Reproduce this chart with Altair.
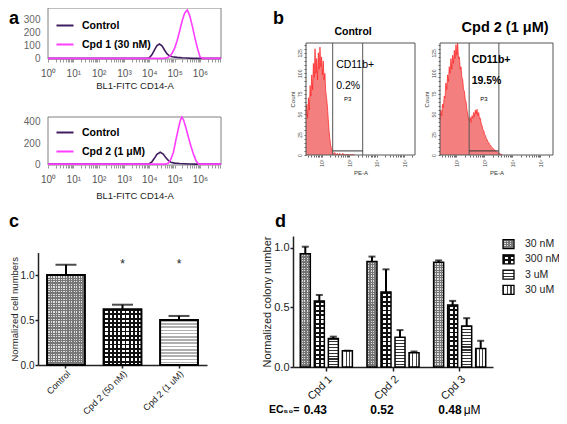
import math
import altair as alt
import pandas as pd

W, H = 551, 408
FONT = "Arial"
CLEAR = "rgba(0,0,0,0)"
LOGLAB = "datum.value % 1 == 0 ? '10' + ['⁰','¹','²','³','⁴','⁵','⁶'][datum.value] : ''"

# ---------------- panel a : CD14 flow histograms (x = log10 intensity) ----------------
a1_names = ["Control", "Cpd 1 (30 nM)"]
a1_ctrl_x = [0.0, 3.9, 4.0, 4.1, 4.2, 4.3, 4.4, 4.5, 4.6, 4.7, 4.8, 4.9, 5.1, 5.3, 5.5, 5.7, 6.83]
a1_ctrl_y = [0, 0, 5, 28, 65, 100, 112, 98, 65, 35, 20, 12, 8, 5, 3, 0, 0]
a1_cpd_x = [0.0, 4.6, 4.7, 4.8, 4.9, 5.0, 5.1, 5.2, 5.3, 5.4, 5.5, 5.6, 5.7, 5.8, 5.9, 6.0, 6.1, 6.83]
a1_cpd_y = [0, 0, 4, 15, 40, 80, 140, 215, 295, 355, 378, 330, 250, 160, 80, 12, 0, 0]

a2_names = ["Control", "Cpd 2 (1 μM)"]
a2_ctrl_x = [0.0, 3.9, 4.0, 4.1, 4.2, 4.3, 4.43, 4.55, 4.65, 4.75, 4.85, 5.0, 5.2, 5.4, 5.6, 5.8, 6.83]
a2_ctrl_y = [0, 0, 4, 22, 55, 92, 112, 95, 62, 35, 18, 10, 6, 4, 2, 0, 0]
a2_cpd_x = [0.0, 4.65, 4.75, 4.85, 4.95, 5.05, 5.15, 5.22, 5.28, 5.35, 5.45, 5.55, 5.65, 5.75, 5.85, 5.95, 6.83]
a2_cpd_y = [0, 0, 10, 45, 110, 230, 340, 410, 445, 420, 340, 250, 165, 90, 30, 0, 0]

# ---------------- panel b : PE-A (CD11b) histograms, bins of 0.03 log10 units from 10^1.42 ----------------
b1_counts = [48, 62, 45, 70, 55, 85, 72, 98, 80, 112, 95, 130, 100, 118, 92, 125, 105, 132, 108, 120,
             98, 115, 92, 100, 78, 70, 60, 45, 30, 20, 12, 8, 4, 2, 1, 3, 1, 0, 2, 1,
             0, 2, 1, 0, 1, 2, 0, 1, 0, 1, 0, 1, 0, 0, 1, 0, 0, 1, 0, 0]
b2_counts = [42, 55, 48, 62, 58, 72, 70, 88, 80, 98, 90, 108, 100, 118, 105, 122, 112, 128, 118, 135,
             122, 137, 118, 120, 105, 108, 95, 92, 80, 78, 68, 65, 55, 50, 44, 42, 46, 40, 48, 45,
             52, 47, 55, 50, 56, 48, 52, 44, 45, 38, 36, 31, 30, 25, 24, 20, 19, 16, 15, 13,
             12, 10, 9, 8, 7, 6, 5, 4, 4, 3, 2, 2, 1, 1, 0]
b1_gate = [2.395, 3.49]
b2_gate = [2.46, 3.52]
b1_pct = "0.2%"
b2_pct = "19.5%"

# ---------------- panel c ----------------
c_cats = ["Control", "Cpd 2 (50 nM)", "Cpd 2 (1 uM)"]
c_vals = [1.0, 0.62, 0.50]
c_errs = [0.115, 0.05, 0.045]
c_stars = ["", "*", "*"]

# ---------------- panel d ----------------
d_groups = ["Cpd 1", "Cpd 2", "Cpd 3"]
d_series = ["30 nM", "300 nM", "3 uM", "30 uM"]
d_30nM = [0.95, 0.885, 0.88]
d_300nM = [0.555, 0.63, 0.52]
d_3uM = [0.24, 0.25, 0.345]
d_30uM = [0.137, 0.12, 0.155]
d_30nM_err = [0.06, 0.042, 0.015]
d_300nM_err = [0.05, 0.19, 0.035]
d_3uM_err = [0.015, 0.06, 0.065]
d_30uM_err = [0.0, 0.01, 0.065]
ec50 = ["0.43", "0.52", "0.48"]


# ---------------- helpers ----------------
def log_ticks(lo, hi):
    return [round(d + math.log10(k), 4) for d in range(0, 7) for k in range(1, 10)
            if lo <= d + math.log10(k) <= hi]


def stripes(n, on, off, frac, axis):
    n = max(1, int(round(n)))
    stops = []
    for i in range(n):
        a, b, c = i / n, (i + frac) / n, (i + 1) / n
        stops += [alt.GradientStop(offset=round(a, 4), color=on), alt.GradientStop(offset=round(b, 4), color=on),
                  alt.GradientStop(offset=round(b, 4), color=off), alt.GradientStop(offset=round(c, 4), color=off)]
    if axis == "x":
        return alt.LinearGradient(gradient="linear", stops=stops, x1=0, y1=0, x2=1, y2=0)
    return alt.LinearGradient(gradient="linear", stops=stops, x1=0, y1=0, x2=0, y2=1)


def fills(kind, w, h):
    if kind == "fine":
        return [stripes(w / 2.5, "#777777", "#dddddd", 0.5, "x"), stripes(h / 2.5, "#777777", CLEAR, 0.5, "y")]
    if kind == "bold":
        return [stripes(w / 4.4, "#111111", "#ffffff", 0.42, "x"), stripes(h / 4.4, "#111111", CLEAR, 0.42, "y")]
    if kind == "hgray":
        return [stripes(h / 3.2, "#b0b0b0", "#ffffff", 0.5, "y")]
    if kind == "hblack":
        return [stripes(h / 3.0, "#333333", "#ffffff", 0.4, "y")]
    return [stripes(w / 3.3, "#444444", "#ffffff", 0.33, "x")]


def bar_layers(df, filt, enc, kind, w, h, sw, markname="bar"):
    out = []
    fl = fills(kind, w, h)
    for i, f in enumerate(fl):
        last = i == len(fl) - 1
        base = alt.Chart(df).transform_filter(filt)
        if markname == "bar":
            m = base.mark_bar(fill=f, stroke="black", strokeWidth=sw if last else 0)
        else:
            m = base.mark_rect(fill=f, stroke="black", strokeWidth=sw if last else 0)
        out.append(m.encode(**enc))
    return out


# ---------------- panel a builder ----------------
def panel_a(names, curves, y_dom, y_rng, y_vals, legend_y, title_pad):
    rows = []
    for name, (xs, ys) in zip(names, curves):
        for x, y in zip(xs, ys):
            rows.append({"x": x, "y": y, "s": name})
    df = pd.DataFrame(rows)
    xsc = alt.Scale(domain=[0, 6.83], range=[40, 213], nice=False, zero=False)
    ysc = alt.Scale(domain=y_dom, range=y_rng, nice=False, zero=False)
    axx = alt.Axis(orient="bottom", offset=y_rng[0] - H, values=log_ticks(0, 6.83), labelExpr=LOGLAB,
                   labelFlush=False, labelOverlap=False, domain=False, grid=False,
                   tickSize=3, tickColor="#999999", labelFontSize=10, labelColor="#555555", labelPadding=6,
                   title="BL1-FITC CD14-A", titleFontSize=9.5, titleFontWeight="normal", titleColor="#222222",
                   titlePadding=title_pad)
    axy = alt.Axis(orient="left", offset=-40, values=y_vals, domain=False, ticks=False, grid=False,
                   labelFontSize=10, labelColor="#666666", labelPadding=8, title=None)
    box = alt.Chart(pd.DataFrame({"x": [0.0], "x2": [6.83], "y": [y_dom[0]], "y2": [y_dom[1]]})).mark_rect(
        fill="white", fillOpacity=0, stroke="#808080", strokeWidth=1).encode(
        x=alt.X("x:Q", scale=xsc, axis=axx), x2="x2:Q", y=alt.Y("y:Q", scale=ysc, axis=axy), y2="y2:Q")
    lines = alt.Chart(df).mark_line(strokeWidth=1.6).encode(
        x=alt.X("x:Q", scale=xsc, axis=axx), y=alt.Y("y:Q", scale=ysc, axis=axy),
        color=alt.Color("s:N", scale=alt.Scale(domain=names, range=["#3f1d5e", "#ff3dff"]),
                        legend=alt.Legend(orient="none", legendX=47, legendY=legend_y, title=None,
                                          symbolType="stroke", symbolSize=290, symbolStrokeWidth=2,
                                          labelFontSize=10.5, labelFontWeight="bold", labelColor="black",
                                          labelOffset=7, rowPadding=3, labelFont=FONT)))
    return alt.layer(box, lines)


# ---------------- panel b builder ----------------
def panel_b(counts, x_dom, x_rng, gate, texts):
    xs = [round(1.42 + 0.03 * i, 2) for i in range(len(counts))]
    df = pd.DataFrame({"x": xs, "y": counts})
    xsc = alt.Scale(domain=x_dom, range=x_rng, nice=False, zero=False)
    ysc = alt.Scale(domain=[0, 137], range=[147, 35], nice=False, zero=False)
    axx = alt.Axis(orient="bottom", offset=147 - H, values=log_ticks(x_dom[0], x_dom[1]), labelExpr=LOGLAB,
                   labelAngle=-90, labelFontSize=5, labelColor="#444444", labelPadding=2, labelFlush=False,
                   labelOverlap=False, tickSize=2, tickColor="#666666", domain=False, grid=False,
                   title="PE-A", titleFontSize=6, titleFontWeight="normal", titleColor="#333333", titlePadding=3)
    axy = alt.Axis(orient="left", offset=-x_rng[0], values=list(range(0, 136, 5)),
                   labelExpr="datum.value % 25 == 0 ? datum.label : ''", labelAngle=-90, labelFontSize=5,
                   labelColor="#444444", labelPadding=2, labelOverlap=False, tickSize=2, tickColor="#666666",
                   domain=False, grid=False, title="Count", titleFontSize=6, titleFontWeight="normal",
                   titleColor="#333333", titlePadding=2)
    X = alt.X("x:Q", scale=xsc, axis=axx)
    Y = alt.Y("y:Q", scale=ysc, axis=axy)
    area = alt.Chart(df).mark_area(color="#f27878", opacity=0.95).encode(x=X, y=Y)
    line = alt.Chart(df).mark_line(color="#ff2020", strokeWidth=0.7).encode(x=X, y=Y)
    box = alt.Chart(pd.DataFrame({"x": [x_dom[0]], "x2": [x_dom[1]], "y": [0], "y2": [137]})).mark_rect(
        fill="white", fillOpacity=0, stroke="#555555", strokeWidth=1).encode(x=X, x2="x2:Q", y=Y, y2="y2:Q")
    vr = alt.Chart(pd.DataFrame({"x": gate, "y": [0, 0], "y2": [137, 137]})).mark_rule(
        color="#555555", strokeWidth=1).encode(x=X, y=Y, y2="y2:Q")
    hr = alt.Chart(pd.DataFrame({"x": [gate[0]], "x2": [gate[1]], "y": [5]})).mark_rule(
        color="#333333", strokeWidth=1).encode(x=X, x2="x2:Q", y=Y)
    layers = [area, line, box, vr, hr]
    for (tx, ty, t, size, weight, align) in texts:
        layers.append(alt.Chart(pd.DataFrame({"x": [tx], "y": [ty], "t": [t]})).mark_text(
            fontSize=size, fontWeight=weight, align=align, baseline="middle", color="black").encode(
            x=X, y=Y, text="t:N"))
    return alt.layer(*layers)


# ---------------- build panels ----------------
a1 = panel_a(a1_names, [(a1_ctrl_x, a1_ctrl_y), (a1_cpd_x, a1_cpd_y)], [-5, 393], [51, 0],
             [0, 100, 200, 300], 7.5, 2)
a2 = panel_a(a2_names, [(a2_ctrl_x, a2_ctrl_y), (a2_cpd_x, a2_cpd_y)], [-8, 446], [157, 109],
             [0, 200, 400], 114.5, 6)

b1 = panel_b(b1_counts, [1.42, 5.4], [298, 407], b1_gate,
             [(2.52, 110, "CD11b+", 10.5, "normal", "left"), (2.52, 84, b1_pct, 10.5, "normal", "left"),
              (2.94, 68, "P3", 6, "normal", "center"), (3.14, 151, "Control", 10.5, "bold", "center")])
b2 = panel_b(b2_counts, [1.42, 5.45], [432, 545], b2_gate,
             [(2.55, 116, "CD11b+", 10.5, "bold", "left"), (2.55, 91, b2_pct, 10.5, "bold", "left"),
              (2.99, 68, "P3", 6, "normal", "center"), (3.74, 155, "Cpd 2 (1 μM)", 14.5, "bold", "center")])

# panel c
C_BOT = 357
c_df = pd.DataFrame({"cat": c_cats, "val": c_vals, "err": c_errs, "star": c_stars})
xs_c = alt.Scale(domain=c_cats, range=[30, 199], paddingInner=0.33, paddingOuter=0.16)
ys_c = alt.Scale(domain=[0, 1.25], range=[C_BOT, C_BOT - 112.5], nice=False, zero=False)
ax_c_x = alt.Axis(orient="bottom", offset=C_BOT - H, labelAngle=-45, labelFontSize=9, labelColor="#222222",
                  labelPadding=1, tickSize=3, tickWidth=1.5, tickColor="#222222", domainWidth=1.5,
                  domainColor="#222222", title=None, grid=False)
ax_c_y = alt.Axis(orient="left", offset=-30, values=[0, 0.5, 1.0], format=".1f", labelFontSize=10,
                  labelColor="#222222", labelPadding=1, tickSize=3, tickWidth=1.5, tickColor="#222222",
                  domainWidth=1.5, domainColor="#222222", title="Normalized cell numbers", titleFontSize=9.5,
                  titleFontWeight="normal", titleColor="#222222", titlePadding=1, grid=False)
Xc = alt.X("cat:N", scale=xs_c, axis=ax_c_x)
c_layers = []
for cat, v, kind in zip(c_cats, c_vals, ["fine", "bold", "hgray"]):
    c_layers += bar_layers(c_df, f"datum.cat == '{cat}'", dict(x=Xc, y=alt.Y("val:Q", scale=ys_c, axis=ax_c_y)),
                           kind, 37.9, v * 90, 2)
c_err = alt.Chart(c_df).transform_calculate(top="datum.val + datum.err")
c_layers.append(c_err.mark_rule(color="black", strokeWidth=2).encode(
    x=Xc, y=alt.Y("val:Q", scale=ys_c, axis=ax_c_y), y2="top:Q"))
c_layers.append(c_err.mark_tick(color="black", orient="horizontal", size=21, thickness=2).encode(
    x=Xc, y=alt.Y("top:Q", scale=ys_c, axis=ax_c_y)))
c_layers.append(alt.Chart(c_df).mark_text(fontSize=12, color="#222222", baseline="middle").encode(
    x=Xc, y=alt.datum(1.125, scale=ys_c, axis=ax_c_y), text="star:N"))
c_panel = alt.layer(*c_layers)

# panel d
d_rows = []
for s, vals, errs in zip(d_series, [d_30nM, d_300nM, d_3uM, d_30uM],
                         [d_30nM_err, d_300nM_err, d_3uM_err, d_30uM_err]):
    for g, v, e in zip(d_groups, vals, errs):
        d_rows.append({"g": g, "s": s, "v": v, "e": e})
d_df = pd.DataFrame(d_rows)
d_kind = {"30 nM": "fine", "300 nM": "bold", "3 uM": "hblack", "30 uM": "vblack"}
xs_d = alt.Scale(domain=d_groups, range=[285, 485], paddingInner=0, paddingOuter=0)
xo_d = alt.Scale(domain=d_series, paddingInner=0.286, paddingOuter=0.52)
ys_d = alt.Scale(domain=[0, 1.1], range=[359, 228], nice=False, zero=False)
ax_d_x = alt.Axis(orient="bottom", offset=359 - H, labelAngle=-45, labelFontSize=11, labelColor="#222222",
                  labelPadding=2, tickSize=4, tickWidth=1.5, tickColor="#222222", domainWidth=1.5,
                  domainColor="#222222", title=None, grid=False)
ax_d_y = alt.Axis(orient="left", offset=-285, values=[0, 0.5, 1.0], format=".1f", labelFontSize=11,
                  labelColor="#222222", labelPadding=1, tickSize=3, tickWidth=1.5, tickColor="#222222",
                  domainWidth=1.5, domainColor="#222222", title="Normalized colony number", titleFontSize=11,
                  titleFontWeight="normal", titleColor="#222222", titlePadding=1, grid=False)
Xd = alt.X("g:N", scale=xs_d, axis=ax_d_x)
XOd = alt.XOffset("s:N", scale=xo_d)
d_layers = []
for row in d_rows:
    d_layers += bar_layers(d_df, f"datum.g == '{row['g']}' && datum.s == '{row['s']}'",
                           dict(x=Xd, xOffset=XOd, y=alt.Y("v:Q", scale=ys_d, axis=ax_d_y)),
                           d_kind[row["s"]], 10, row["v"] * 119.1, 1.5)
d_err = alt.Chart(d_df).transform_calculate(top="datum.v + datum.e")
d_layers.append(d_err.mark_rule(color="black", strokeWidth=2).encode(
    x=Xd, xOffset=XOd, y=alt.Y("v:Q", scale=ys_d, axis=ax_d_y), y2="top:Q"))
d_layers.append(d_err.mark_tick(color="black", orient="horizontal", size=7, thickness=2).encode(
    x=Xd, xOffset=XOd, y=alt.Y("top:Q", scale=ys_d, axis=ax_d_y)))
ec_df = pd.DataFrame({"g": d_groups, "t": ec50})
EC_Y = 402
d_layers.append(alt.Chart(ec_df).transform_filter("datum.g != 'Cpd 3'").mark_text(
    fontSize=12, fontWeight="bold", dx=-11, baseline="middle", color="black").encode(
    x=Xd, y=alt.value(EC_Y), text="t:N"))
d_layers.append(alt.Chart(ec_df).transform_filter("datum.g == 'Cpd 3'").mark_text(
    fontSize=12, fontWeight="bold", dx=2, align="right", baseline="middle", color="black").encode(
    x=Xd, y=alt.value(EC_Y), text="t:N"))
d_layers.append(alt.Chart(ec_df).transform_filter("datum.g == 'Cpd 3'").mark_text(
    fontSize=12, dx=4, align="left", baseline="middle", color="black", text="μM").encode(
    x=Xd, y=alt.value(EC_Y)))
d_panel = alt.layer(*d_layers)

# legend of panel d
leg_df = pd.DataFrame({"s": d_series, "x0": [0] * 4, "x1": [1] * 4, "xt": [2] * 4})
xs_l = alt.Scale(domain=[0, 2], range=[495, 517], nice=False, zero=False)
ys_l = alt.Scale(domain=d_series, range=[228.5, 289.5], paddingInner=0.4, paddingOuter=0.2)
leg_layers = []
for s in d_series:
    leg_layers += bar_layers(leg_df, f"datum.s == '{s}'",
                             dict(x=alt.X("x0:Q", scale=xs_l, axis=None), x2="x1:Q",
                                  y=alt.Y("s:N", scale=ys_l, axis=None)),
                             d_kind[s], 11, 9, 1.3, markname="rect")
leg_layers.append(alt.Chart(leg_df).mark_text(fontSize=10.5, align="left", baseline="middle", color="#222222").encode(
    x=alt.X("xt:Q", scale=xs_l, axis=None), y=alt.Y("s:N", scale=ys_l, axis=None), text="s:N"))
leg_panel = alt.layer(*leg_layers)

# panel letters and EC50 label
one = pd.DataFrame({"k": [0]})
notes = []
for t, x, y in [("a", 1, 2), ("b", 265, 2), ("c", 1, 205), ("d", 267, 205)]:
    notes.append(alt.Chart(one).mark_text(text=t, fontSize=18, fontWeight="bold", align="left",
                                          baseline="top", color="black").encode(x=alt.value(x), y=alt.value(y)))
notes.append(alt.Chart(one).mark_text(text="EC₅₀=", fontSize=10.5, fontWeight="bold", align="left",
                                      baseline="middle", color="black").encode(x=alt.value(261), y=alt.value(EC_Y)))

chart = alt.layer(a1, a2, b1, b2, c_panel, d_panel, leg_panel, *notes).resolve_scale(
    x="independent", y="independent", color="independent", xOffset="independent"
).resolve_axis(x="independent", y="independent").resolve_legend(color="independent").properties(
    width=W, height=H, padding=0, autosize=alt.AutoSizeParams(type="none")
).configure(font=FONT).configure_view(strokeWidth=0).configure_axis(labelFont=FONT, titleFont=FONT)

chart.save("out.html", embed_options={"renderer": "svg", "actions": False})
